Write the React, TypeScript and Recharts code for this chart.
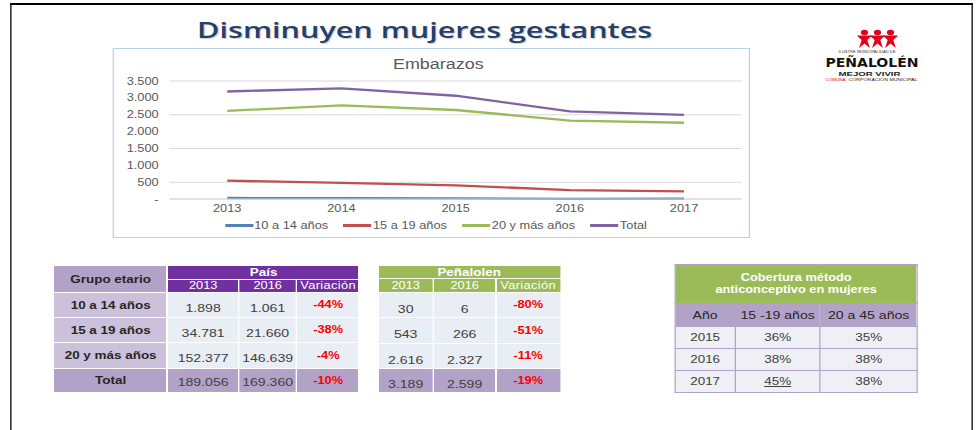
import React from "react";
import { CartesianGrid, Legend, Line, LineChart, XAxis, YAxis } from "recharts";

// the slide is stretched sideways in the picture, so everything is laid out
// narrow and the page wrapper is scaled on X
const K = 1.28;
const ux = (v: number) => v / K;
const FONT = "'Liberation Sans', Arial, sans-serif";

// chart data
const years = ["2013", "2014", "2015", "2016", "2017"];
const tenToFourteen = [30, 24, 18, 6, 9];
const fifteenToNineteen = [543, 480, 405, 266, 225];
const twentyPlus = [2616, 2775, 2640, 2327, 2262];
const totals = [3189, 3279, 3063, 2599, 2496];
const yTicks = [0, 500, 1000, 1500, 2000, 2500, 3000, 3500];

const seriesNames = ["10 a 14 años", "15 a 19 años", "20 y más años", "Total"];
const seriesColors = ["#4F81BD", "#C0504D", "#9BBB59", "#8064A2"];

// tables
const ageGroups = ["10 a 14 años", "15 a 19 años", "20 y más años"];
const paisYears = ["2013", "2016"];
const pais2013 = [1898, 34781, 152377];
const pais2016 = [1061, 21660, 146639];
const paisVar = ["-44%", "-38%", "-4%"];
const paisTotal = [189056, 169360];
const paisTotalVar = "-10%";

const pena2013 = [30, 543, 2616];
const pena2016 = [6, 266, 2327];
const penaVar = ["-80%", "-51%", "-11%"];
const penaTotal = [3189, 2599];
const penaTotalVar = "-19%";

const coberturaYears = ["2015", "2016", "2017"];
const cobertura15a19 = ["36%", "38%", "45%"];
const cobertura20a45 = ["35%", "38%", "38%"];

const chartRows = years.map((year, i) => ({
    year,
    a: tenToFourteen[i],
    b: fifteenToNineteen[i],
    c: twentyPlus[i],
    d: totals[i],
}));

const fmt = (v: number) =>
    v === 0 ? "-" : String(v).replace(/\B(?=(\d{3})+(?!\d))/g, ".");

const PURPLE = "#7030A0";
const LAV = "#B3A2C7";
const LAV_LIGHT = "#CCC1DA";
const GREEN = "#9BBB59";
const CELL = "#E9EDF4";
const RED = "#FF0000";

const cell: React.CSSProperties = {
    border: "1px solid #fff",
    padding: 0,
    textAlign: "center",
    verticalAlign: "middle",
    lineHeight: 1,
    overflow: "hidden",
    whiteSpace: "nowrap",
};

const renderLegend = (props: any) => {
    const payload = props.payload || [];
    return (
        <div
            style={{
                display: "flex",
                justifyContent: "center",
                alignItems: "center",
                gap: 12,
                height: 16,
                paddingLeft: 14,
                fontFamily: FONT,
                fontSize: 10,
                color: "#595959",
            }}
        >
            {payload.map((p: any) => (
                <div key={p.value} style={{ display: "flex", alignItems: "center" }}>
                    <div style={{ width: 22, height: 2.5, background: p.color, marginRight: 1 }} />
                    <span>{p.value}</span>
                </div>
            ))}
        </div>
    );
};

const EmbarazosChart = () => (
    <div
        style={{
            position: "absolute",
            left: ux(113),
            top: 48,
            width: ux(750 - 113),
            height: 190,
            border: "1.5px solid #BFD0EA",
            boxSizing: "border-box",
            background: "#fff",
        }}
    >
        <div
            style={{
                position: "absolute",
                left: ux(437 - 113) - 60,
                width: 120,
                top: 7,
                textAlign: "center",
                fontFamily: FONT,
                fontSize: 14,
                color: "#595959",
            }}
        >
            Embarazos
        </div>
        <div style={{ position: "absolute", left: -1.5, top: -1.5 }}>
            <LineChart
                width={ux(750 - 113)}
                height={190}
                data={chartRows}
                margin={{ top: 33, right: ux(8), left: 0, bottom: 4 }}
            >
                <CartesianGrid vertical={false} stroke="#D9D9D9" />
                <XAxis
                    dataKey="year"
                    interval={0}
                    height={19}
                    axisLine={{ stroke: "#D9D9D9" }}
                    tickLine={false}
                    tickSize={0}
                    tickMargin={6}
                    padding={{ left: 45, right: 45 }}
                    tick={{ fill: "#595959", fontSize: 10, fontFamily: FONT }}
                />
                <YAxis
                    width={ux(170 - 113)}
                    domain={[0, 3500]}
                    ticks={yTicks}
                    axisLine={false}
                    tickLine={false}
                    tickSize={0}
                    tickMargin={ux(11)}
                    tickFormatter={fmt}
                    tick={{ fill: "#595959", fontSize: 10, fontFamily: FONT }}
                />
                <Legend verticalAlign="bottom" height={16} content={renderLegend} />
                {["a", "b", "c", "d"].map((key, i) => (
                    <Line
                        key={key}
                        type="linear"
                        dataKey={key}
                        name={seriesNames[i]}
                        stroke={seriesColors[i]}
                        strokeWidth={2.3}
                        dot={false}
                        activeDot={false}
                        isAnimationActive={false}
                    />
                ))}
            </LineChart>
        </div>
    </div>
);

const PaisTable = () => {
    const label: React.CSSProperties = {
        ...cell,
        background: LAV_LIGHT,
        fontWeight: 700,
        fontSize: 10.5,
        color: "#262626",
    };
    const num: React.CSSProperties = {
        ...cell,
        background: CELL,
        fontSize: 11,
        color: "#404040",
        paddingTop: 6,
    };
    const pct: React.CSSProperties = { ...cell, background: CELL, fontSize: 10, fontWeight: 700, color: RED };
    const head: React.CSSProperties = { ...cell, background: PURPLE, color: "#fff", fontSize: 10 };
    const tot: React.CSSProperties = { ...cell, background: LAV, fontSize: 11, color: "#404040", paddingTop: 3 };
    return (
        <table
            style={{
                position: "absolute",
                left: ux(53),
                top: 265,
                width: ux(306),
                borderCollapse: "collapse",
                tableLayout: "fixed",
                fontFamily: FONT,
            }}
        >
            <colgroup>
                {[114, 71, 58, 63].map((w, i) => (
                    <col key={i} style={{ width: ux(w) }} />
                ))}
            </colgroup>
            <tbody>
                <tr style={{ height: 14 }}>
                    <td rowSpan={2} style={{ ...label, background: LAV }}>
                        Grupo etario
                    </td>
                    <td colSpan={3} style={{ ...head, fontWeight: 700, fontSize: 10.5 }}>
                        País
                    </td>
                </tr>
                <tr style={{ height: 13 }}>
                    {paisYears.map((y) => (
                        <td key={y} style={head}>
                            {y}
                        </td>
                    ))}
                    <td style={{ ...head, letterSpacing: 0.3 }}>Variación</td>
                </tr>
                {ageGroups.map((g, i) => (
                    <tr key={g} style={{ height: i === 2 ? 26 : 25 }}>
                        <td style={label}>{g}</td>
                        <td style={num}>{fmt(pais2013[i])}</td>
                        <td style={num}>{fmt(pais2016[i])}</td>
                        <td style={pct}>{paisVar[i]}</td>
                    </tr>
                ))}
                <tr style={{ height: 24 }}>
                    <td style={{ ...label, background: LAV }}>Total</td>
                    <td style={tot}>{fmt(paisTotal[0])}</td>
                    <td style={tot}>{fmt(paisTotal[1])}</td>
                    <td style={{ ...pct, background: LAV }}>{paisTotalVar}</td>
                </tr>
            </tbody>
        </table>
    );
};

const PenalolenTable = () => {
    const num: React.CSSProperties = {
        ...cell,
        background: CELL,
        fontSize: 11,
        color: "#404040",
        paddingTop: 8,
    };
    const pct: React.CSSProperties = { ...cell, background: CELL, fontSize: 10, fontWeight: 700, color: RED };
    const head: React.CSSProperties = { ...cell, background: GREEN, color: "#fff", fontSize: 10 };
    const tot: React.CSSProperties = { ...cell, background: LAV, fontSize: 11, color: "#404040", paddingTop: 8 };
    return (
        <table
            style={{
                position: "absolute",
                left: ux(377),
                top: 265,
                width: ux(183),
                borderCollapse: "collapse",
                tableLayout: "fixed",
                fontFamily: FONT,
            }}
        >
            <colgroup>
                {[56, 62, 65].map((w, i) => (
                    <col key={i} style={{ width: ux(w) }} />
                ))}
            </colgroup>
            <tbody>
                <tr style={{ height: 13 }}>
                    <td colSpan={3} style={{ ...head, fontWeight: 700, fontSize: 10.5 }}>
                        Peñalolen
                    </td>
                </tr>
                <tr style={{ height: 14 }}>
                    {paisYears.map((y) => (
                        <td key={y} style={head}>
                            {y}
                        </td>
                    ))}
                    <td style={{ ...head, letterSpacing: 0.3 }}>Variación</td>
                </tr>
                {ageGroups.map((g, i) => (
                    <tr key={g} style={{ height: i === 1 ? 26 : 25 }}>
                        <td style={num}>{fmt(pena2013[i])}</td>
                        <td style={num}>{fmt(pena2016[i])}</td>
                        <td style={pct}>{penaVar[i]}</td>
                    </tr>
                ))}
                <tr style={{ height: 24 }}>
                    <td style={tot}>{fmt(penaTotal[0])}</td>
                    <td style={tot}>{fmt(penaTotal[1])}</td>
                    <td style={{ ...pct, background: LAV }}>{penaTotalVar}</td>
                </tr>
            </tbody>
        </table>
    );
};

const CoberturaTable = () => {
    const b: React.CSSProperties = { ...cell, border: `1px solid ${LAV}` };
    const sub: React.CSSProperties = { ...b, background: LAV, fontSize: 11, color: "#262626" };
    const data: React.CSSProperties = { ...b, background: "#EEF0F6", fontSize: 10.5, color: "#404040" };
    return (
        <table
            style={{
                position: "absolute",
                left: ux(674),
                top: 264,
                width: ux(243),
                borderCollapse: "collapse",
                tableLayout: "fixed",
                fontFamily: FONT,
            }}
        >
            <colgroup>
                {[61, 84, 98].map((w, i) => (
                    <col key={i} style={{ width: ux(w) }} />
                ))}
            </colgroup>
            <tbody>
                <tr style={{ height: 39 }}>
                    <td
                        colSpan={3}
                        style={{
                            ...b,
                            background: GREEN,
                            color: "#fff",
                            fontWeight: 700,
                            fontSize: 10,
                            lineHeight: "12px",
                            whiteSpace: "normal",
                        }}
                    >
                        Cobertura método
                        <br />
                        anticonceptivo en mujeres
                    </td>
                </tr>
                <tr style={{ height: 23 }}>
                    <td style={sub}>Año</td>
                    <td style={sub}>15 -19 años</td>
                    <td style={sub}>20 a 45 años</td>
                </tr>
                {coberturaYears.map((y, i) => (
                    <tr key={y} style={{ height: 22 }}>
                        <td style={data}>{y}</td>
                        <td style={{ ...data, textDecoration: i === 2 ? "underline" : "none" }}>
                            {cobertura15a19[i]}
                        </td>
                        <td style={data}>{cobertura20a45[i]}</td>
                    </tr>
                ))}
            </tbody>
        </table>
    );
};

const Logo = () => (
    <svg
        width={ux(100)}
        height={60}
        style={{ position: "absolute", left: ux(820), top: 28, overflow: "visible" }}
    >
        {[0, 1, 2].map((i) => {
            const cx = ux(44 + i * 13);
            return (
                <g key={i} fill="#E2001A">
                    <circle cx={cx} cy={4.5} r={2.8} />
                    <path
                        d={`M${cx - 6},7.5 L${cx + 6},7.5 L${cx + 2.2},12 L${cx + 4.2},20 L${cx},15.5 L${cx - 4.2},20 L${cx - 2.2},12 Z`}
                    />
                </g>
            );
        })}
        <text x={ux(18)} y={25} fontSize={3} fill="#333" textLength={ux(57)} lengthAdjust="spacingAndGlyphs" fontFamily={FONT}>
            ILUSTRE MUNICIPALIDAD DE
        </text>
        <text
            x={ux(5)}
            y={39.5}
            fontSize={13}
            fontWeight={700}
            fill="#111"
            textLength={ux(93)}
            lengthAdjust="spacingAndGlyphs"
            fontFamily="'DejaVu Sans', sans-serif"
        >
            PEÑALOLÉN
        </text>
        <text
            x={ux(18)}
            y={48.5}
            fontSize={6}
            fontWeight={700}
            fill="#222"
            textLength={ux(62)}
            lengthAdjust="spacingAndGlyphs"
            fontFamily={FONT}
        >
            MEJOR VIVIR
        </text>
        <text x={ux(5)} y={53.5} fontSize={3.5} fill="#E2001A" textLength={ux(20)} lengthAdjust="spacingAndGlyphs" fontFamily={FONT}>
            COMUNA
        </text>
        <text x={ux(28)} y={53.5} fontSize={3.5} fill="#222" textLength={ux(69)} lengthAdjust="spacingAndGlyphs" fontFamily={FONT}>
            CORPORACIÓN MUNICIPAL
        </text>
    </svg>
);

const App = () => (
    <div
        style={{
            position: "absolute",
            left: 0,
            top: 0,
            width: ux(980),
            height: 430,
            overflow: "hidden",
            transform: `scaleX(${K})`,
            transformOrigin: "0 0",
            background: "#fff",
        }}
    >
        <div
            style={{
                position: "absolute",
                left: ux(10),
                top: 3,
                width: ux(973 - 10),
                height: 500,
                borderTop: "2px solid #000",
                borderLeft: "1.6px solid #000",
                borderRight: "1.6px solid #000",
                boxSizing: "border-box",
            }}
        />
        <svg width={ux(470)} height={44} style={{ position: "absolute", left: ux(197), top: 10 }}>
            <text
                x={0}
                y={28}
                fontSize={21}
                fontWeight={600}
                fill="#24406A"
                textLength={ux(455)}
                lengthAdjust="spacingAndGlyphs"
                fontFamily="'Open Sans', sans-serif"
                style={{ textShadow: "1px 1px 1px rgba(0,0,0,0.2)" }}
            >
                Disminuyen mujeres gestantes
            </text>
        </svg>
        <Logo />
        <EmbarazosChart />
        <PaisTable />
        <PenalolenTable />
        <CoberturaTable />
    </div>
);

export default App;
